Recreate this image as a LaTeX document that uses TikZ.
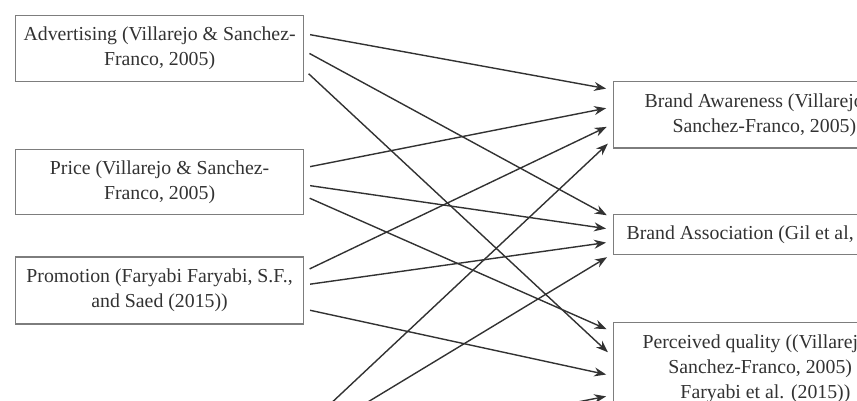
\documentclass[tikz,border=0pt]{standalone}
\usepackage{fontspec}
\setmainfont{Liberation Serif}
\usepackage{tikz}
\usetikzlibrary{arrows.meta, positioning}
\definecolor{edgegray}{RGB}{125,125,125}
\definecolor{inkgray}{RGB}{50,50,50}

\begin{document}
\begin{tikzpicture}[x=1pt, y=-1pt,
      box/.style={rectangle, draw=edgegray, line width=1.2pt, align=center, text=inkgray,
        font=\fontsize{19.8}{25}\selectfont, minimum width=288pt, inner sep=0pt},
      target/.style={rectangle, draw=edgegray, line width=1.2pt, align=center, text=inkgray,
        font=\fontsize{19.8}{25}\selectfont, inner ysep=0pt, anchor=north west},
      arr/.style={-{Stealth[length=12pt, width=9pt]}, inkgray, line width=1.4pt,
        shorten <=6pt, shorten >=7pt}]
    \useasboundingbox (0,0) rectangle (857,401);
    \clip (0,0) rectangle (857,401);
    \node[box, minimum height=66pt, anchor=north west] (adv) at (15,15) {Advertising (Villarejo \& Sanchez-\\Franco, 2005)};
    \node[box, minimum height=65pt, below=67pt of adv] (price) {Price (Villarejo \& Sanchez-\\Franco, 2005)};
    \node[box, minimum height=67pt, below=41pt of price] (promo) {Promotion (Faryabi Faryabi, S.F.,\\and Saed (2015))};
    \node[target, minimum height=66.5pt, inner xsep=31pt] (aware) at (613,81) {Brand Awareness (Villarejo \&\\Sanchez-Franco, 2005)};
    \node[target, minimum height=40pt, inner xsep=13pt] (assoc) at (613,214) {Brand Association (Gil et al, 2007)};
    \node[target, inner xsep=29pt, inner ysep=12pt] (quality) at (613,322) {Perceived quality ((Villarejo \&\\Sanchez-Franco, 2005) ;\\Faryabi et al. (2015))};
    \coordinate (low1) at (310,423);
    \coordinate (low2) at (310,437);
    \coordinate (low3) at (310,455);
    \draw[arr] ([yshift=15pt]adv.east) -- ([yshift=25pt]aware.west);
    \draw[arr] ([yshift=-2pt]adv.east) -- ([yshift=16pt]assoc.west);
    \draw[arr] ([yshift=-21pt]adv.east) -- ([yshift=-35pt]quality.north west);
    \draw[arr] ([yshift=14.5pt]price.east) -- ([yshift=8pt]aware.west);
    \draw[arr] ([yshift=-2.5pt]price.east) -- ([yshift=5pt]assoc.west);
    \draw[arr] ([yshift=-13.5pt]price.east) -- ([yshift=-10pt]quality.north west);
    \draw[arr] ([yshift=19pt]promo.east) -- ([yshift=-9pt]aware.west);
    \draw[arr] ([yshift=5.5pt]promo.east) -- ([yshift=-7pt]assoc.west);
    \draw[arr] ([yshift=-18.5pt]promo.east) -- ([yshift=-54pt]quality.north west);
    \draw[arr] (low1) -- ([yshift=-24pt]aware.west);
    \draw[arr] (low2) -- ([yshift=-19pt]assoc.west);
    \draw[arr] (low3) -- ([yshift=-73pt]quality.north west);
  \end{tikzpicture}
\end{document}
